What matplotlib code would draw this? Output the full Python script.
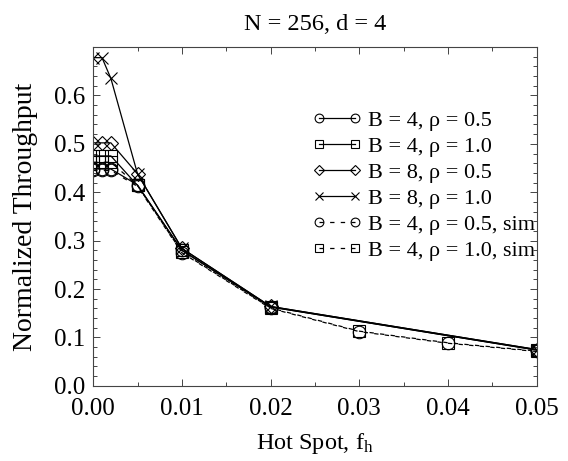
import matplotlib
matplotlib.use('Agg')
from matplotlib import pyplot as plt
from matplotlib.ticker import MultipleLocator, FormatStrFormatter

plt.rcParams['font.family'] = ['Liberation Serif', 'DejaVu Serif']
plt.rcParams['mathtext.fontset'] = 'stix'

# analytic model points
hot_model = [0.0, 0.001, 0.002, 0.005, 0.01, 0.02, 0.05]
b4_r05 = [0.448, 0.448, 0.448, 0.415, 0.280, 0.163, 0.074]
b4_r10 = [0.475, 0.475, 0.475, 0.414, 0.280, 0.163, 0.074]
b8_r05 = [0.502, 0.502, 0.502, 0.438, 0.284, 0.164, 0.075]
b8_r10 = [0.678, 0.678, 0.635, 0.438, 0.284, 0.164, 0.075]

# simulation points
hot_sim = [0.0, 0.001, 0.002, 0.005, 0.01, 0.02, 0.03, 0.04, 0.05]
sim_b4_r05 = [0.445, 0.445, 0.445, 0.412, 0.275, 0.160, 0.112, 0.088, 0.071]
sim_b4_r10 = [0.462, 0.462, 0.462, 0.414, 0.276, 0.161, 0.113, 0.089, 0.072]

labels = ['B = 4, \u03c1 = 0.5', 'B = 4, \u03c1 = 1.0', 'B = 8, \u03c1 = 0.5',
          'B = 8, \u03c1 = 1.0', 'B = 4, \u03c1 = 0.5, sim', 'B = 4, \u03c1 = 1.0, sim']

fig = plt.figure(figsize=(5.68, 4.61), dpi=100)
ax = fig.add_axes([0.164, 0.163, 0.781, 0.735])

style = dict(color='black', lw=0.9, markerfacecolor='none', markeredgecolor='black',
             markeredgewidth=0.8, markersize=9)
ax.plot(hot_model, b4_r05, marker='o', ls='-', label=labels[0], **style)
ax.plot(hot_model, b4_r10, marker='s', ls='-', label=labels[1], **style)
ax.plot(hot_model, b8_r05, marker='D', ls='-', label=labels[2], **dict(style, markersize=7.5))
ax.plot(hot_model, b8_r10, marker='x', ls='-', label=labels[3], **style)
ax.plot(hot_sim, sim_b4_r05, marker='o', ls=(0, (3.5, 5)), label=labels[4], **style)
ax.plot(hot_sim, sim_b4_r10, marker='s', ls=(0, (3.5, 5)), label=labels[5], **style)

ax.set_xlim(0, 0.05)
ax.set_ylim(0, 0.7)
ax.xaxis.set_major_locator(MultipleLocator(0.01))
ax.xaxis.set_minor_locator(MultipleLocator(0.005))
ax.yaxis.set_minor_locator(MultipleLocator(0.02))
ax.xaxis.set_major_formatter(FormatStrFormatter('%.2f'))
ax.yaxis.set_major_formatter(FormatStrFormatter('%.1f'))
ax.set_yticks([0.0, 0.1, 0.2, 0.3, 0.4, 0.5, 0.6])
ax.tick_params(which='both', direction='in', top=True, right=True, labelsize=18,
               width=0.7, color='#444444')
ax.tick_params(which='major', length=5)
ax.tick_params(which='minor', length=3)
ax.tick_params(axis='x', which='major', pad=9)
ax.tick_params(axis='y', which='major', pad=6)
for sp in ax.spines.values():
    sp.set_linewidth(0.8)
    sp.set_color('#444444')

ax.set_title('N = 256, d = 4', fontsize=17.5, pad=12)
ax.set_xlabel(r'Hot Spot, f$_\mathregular{h}$', fontsize=17.5, labelpad=8)
ax.set_ylabel('Normalized Throughput', fontsize=20, labelpad=11)

ax.legend(loc='upper left', bbox_to_anchor=(0.475, 0.84), frameon=False, fontsize=16,
          numpoints=2, markerscale=0.7, handlelength=2.2, handletextpad=0.3,
          labelspacing=0.25, borderaxespad=0)

fig.savefig('out.png', dpi=100)
